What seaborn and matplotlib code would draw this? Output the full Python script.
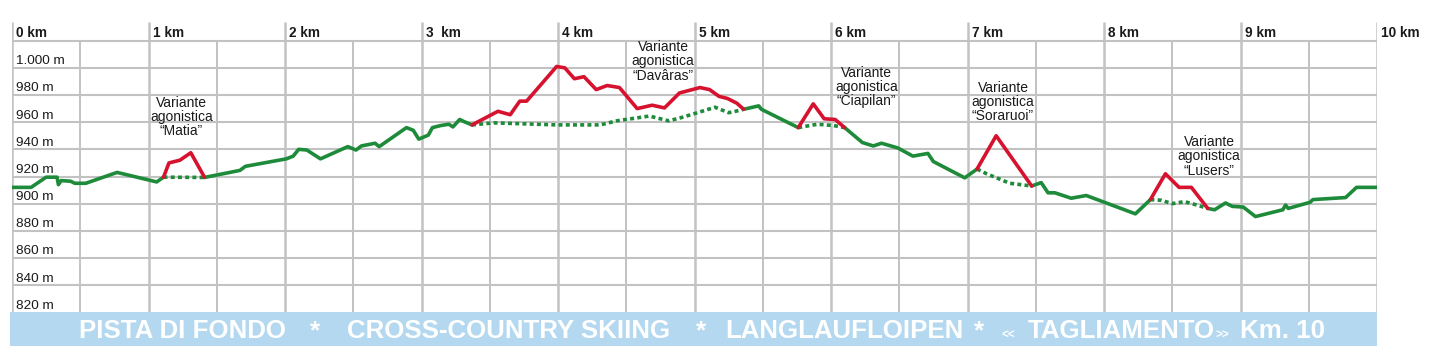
import matplotlib
matplotlib.use("Agg")
import matplotlib.pyplot as plt
from matplotlib.patches import Rectangle
import seaborn as sns
import pandas as pd

# --- profilo principale (km, quota in m) ---
main_km = [0.00, 0.14, 0.25, 0.33, 0.34, 0.36, 0.43, 0.46, 0.54, 0.77, 1.06,
           1.11, 1.41, 1.67, 1.71, 2.01, 2.06, 2.10, 2.16, 2.26, 2.46, 2.52,
           2.56, 2.66, 2.69, 2.89, 2.94, 2.98, 3.05, 3.08, 3.14, 3.20, 3.23,
           3.28, 3.31, 3.37, 3.53, 3.99, 4.31, 4.43, 4.67, 4.81, 4.89, 4.99,
           5.15, 5.25, 5.28, 5.36, 5.47, 5.49, 5.76, 5.90, 6.02, 6.10, 6.23,
           6.31, 6.37, 6.49, 6.60, 6.71, 6.75, 6.98, 7.07, 7.14, 7.31, 7.47,
           7.54, 7.59, 7.64, 7.76, 7.87, 8.23, 8.34, 8.42, 8.50, 8.59, 8.68,
           8.76, 8.81, 8.89, 8.94, 9.02, 9.11, 9.31, 9.33, 9.35, 9.51, 9.53,
           9.77, 9.85, 10.00]
main_elev = [912, 912, 919.5, 919.5, 914, 917, 916.5, 915, 915, 923, 916,
             919.5, 919.3, 924.5, 927.5, 933, 935, 940, 939.5, 933, 942, 939.5,
             942.5, 944.5, 942, 956, 954, 947.5, 950.5, 956, 957.5, 958.5, 956.5,
             962, 960.5, 958, 959.5, 958, 958, 961, 964.5, 961, 963, 966,
             971, 967, 967.5, 969.5, 972, 969.5, 956, 958.5, 957.5, 956, 945,
             942.5, 944.5, 941, 935, 937, 931, 919, 925.5, 922, 915, 913,
             915.5, 908, 908, 904, 906, 892.5, 903, 902.5, 900, 901.5, 899,
             896.5, 895.5, 900.5, 898, 897.5, 890.5, 895.5, 899, 896.5, 901, 903,
             904.5, 912, 912]

# --- varianti agonistiche ---
variant_names = ["Matia", "Davâras", "Ciapilan", "Soraruoi", "Lusers"]
variant_km = [
    [1.11, 1.15, 1.23, 1.31, 1.41],
    [3.37, 3.56, 3.65, 3.72, 3.77, 3.99, 4.05, 4.12, 4.19, 4.28, 4.36, 4.45,
     4.58, 4.69, 4.78, 4.89, 5.04, 5.11, 5.18, 5.24, 5.29, 5.31, 5.36],
    [5.76, 5.87, 5.95, 6.03, 6.10],
    [7.07, 7.21, 7.47],
    [8.34, 8.45, 8.55, 8.64, 8.76],
]
variant_elev = [
    [919.5, 930, 932, 937.5, 919.5],
    [958, 968, 965.5, 975.5, 975.5, 1001, 1000, 992, 993.5, 984, 987, 985.5,
     970, 972.5, 970.5, 981.5, 985.5, 984, 979, 977.5, 975, 974, 969.5],
    [956, 973.5, 962.5, 962, 956],
    [925.5, 950, 913],
    [903, 922, 912, 912, 896.5],
]
# posizione delle etichette delle varianti
label_pos = [(1.24, 963.8), (4.77, 1004.8), (6.26, 985.9), (7.26, 974.8), (8.77, 934.8)]

km_ticks = list(range(11))
km_labels = ["0 km", "1 km", "2 km", "3  km", "4 km", "5 km", "6 km",
             "7 km", "8 km", "9 km", "10 km"]
elev_ticks = [820, 840, 860, 880, 900, 920, 940, 960, 980, 1000]
elev_labels = ["820 m", "840 m", "860 m", "880 m", "900 m", "920 m",
               "940 m", "960 m", "980 m", "1.000 m"]

GREEN = "#1e8b3b"
RED = "#d6122f"
GRID = "#c2c2c2"
BLUE = "#b3d8ef"

sns.set_style("white")
plt.rcParams["font.family"] = ["Liberation Sans", "DejaVu Sans"]

W, H = 1430, 352
fig = plt.figure(figsize=(W / 100, H / 100), dpi=100)
px_per_m = 1.358
y_top = 820 + (312.3 - 22) / px_per_m
ax = fig.add_axes([12 / W, (H - 312.3) / H, (1377 - 12) / W, (312.3 - 22) / H])

# griglia
ax.hlines(elev_ticks[1:] + [1020], 0, 10, color=GRID, lw=1.5, zorder=1)
ax.vlines(km_ticks, 820, y_top, color=GRID, lw=1.8, zorder=1)
ax.vlines([k + 0.5 for k in km_ticks[:-1]], 820, 1020, color=GRID, lw=1.4, zorder=1)

# profilo principale: punteggiato dove esiste la variante
def in_variant(a, b):
    return any(v[0] <= a and b <= v[-1] for v in variant_km)

runs = []
for i in range(len(main_km) - 1):
    dotted = in_variant(main_km[i], main_km[i + 1])
    if runs and runs[-1][0] == dotted:
        runs[-1][1].append(i + 1)
    else:
        runs.append([dotted, [i, i + 1]])

for dotted, idx in runs:
    df = pd.DataFrame({"km": [main_km[j] for j in idx],
                       "quota": [main_elev[j] for j in idx]})
    sns.lineplot(data=df, x="km", y="quota", ax=ax, sort=False, estimator=None,
                 color=GREEN, lw=2.6, zorder=3,
                 linestyle=(0, (1.1, 0.9)) if dotted else "-")

for kms, els in zip(variant_km, variant_elev):
    sns.lineplot(x=kms, y=els, ax=ax, sort=False, estimator=None,
                 color=RED, lw=2.6, zorder=4)

ax.set_xlim(0, 10)
ax.set_ylim(820, y_top)
ax.set_axis_off()

for name, (x, y) in zip(variant_names, label_pos):
    ax.text(x, y, f"Variante\nagonistica\n\u201c{name}\u201d", ha="center",
            va="center", multialignment="center", fontsize=10,
            linespacing=1.02, color="#1a1a1a", zorder=5)

for k, lab in zip(km_ticks, km_labels):
    ax.text(k + 0.032, 1022.5, lab, ha="left", va="baseline", fontsize=9.8,
            fontweight="bold", color="#1a1a1a", clip_on=False)

for v, lab in zip(elev_ticks, elev_labels):
    ax.text(0.028, v + 2.6, lab, ha="left", va="baseline", fontsize=9.7,
            color="#1a1a1a")

# fascia del titolo
fig.add_artist(Rectangle((10 / W, (H - 345.7) / H), (1377.3 - 10) / W, 33.4 / H,
                         transform=fig.transFigure, color=BLUE, lw=0))
base = (H - 338.3) / H
pieces = [(79.3, "PISTA DI FONDO", "left", 18.6),
          (315, "*", "center", 18.6),
          (346.7, "CROSS-COUNTRY SKIING", "left", 18.6),
          (701, "*", "center", 18.6),
          (725, "LANGLAUFLOIPEN", "left", 18.6),
          (979.3, "*", "center", 18.6),
          (1001.7, "<<", "left", 8.5),
          (1028, "TAGLIAMENTO", "left", 18.6),
          (1216, ">>", "left", 8.5),
          (1240, "Km. 10", "left", 18.6)]
for x, txt, ha, fs in pieces:
    fig.text(x / W, base, txt, ha=ha, va="baseline", fontsize=fs,
             fontweight="bold", color="white")

fig.savefig("out.png", dpi=100)
